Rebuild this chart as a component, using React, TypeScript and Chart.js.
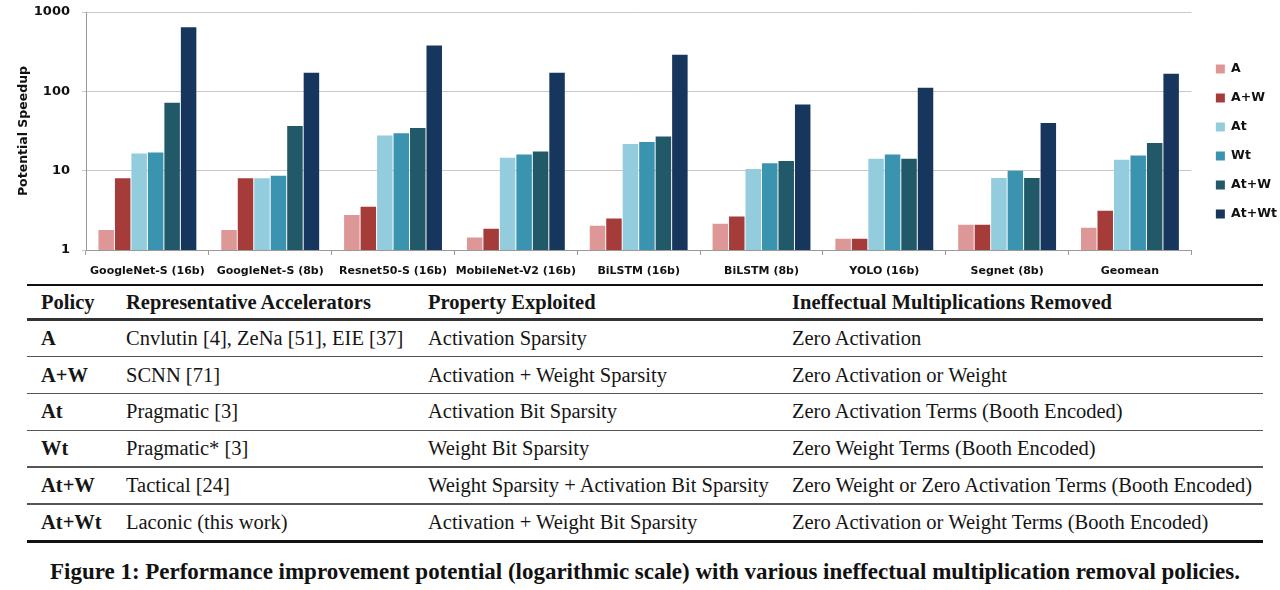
import React, { useEffect, useLayoutEffect, useRef } from 'react';
import { Chart, registerables } from 'chart.js';

Chart.register(...registerables);

// ---------- chart data ----------
const categories = [
  'GoogleNet-S (16b)',
  'GoogleNet-S (8b)',
  'Resnet50-S (16b)',
  'MobileNet-V2 (16b)',
  'BiLSTM (16b)',
  'BiLSTM (8b)',
  'YOLO (16b)',
  'Segnet (8b)',
  'Geomean',
];
const seriesNames = ['A', 'A+W', 'At', 'Wt', 'At+W', 'At+Wt'];
const seriesA = [1.79, 1.79, 2.76, 1.44, 2.02, 2.14, 1.39, 2.08, 1.91];
const seriesAW = [8.05, 8.05, 3.5, 1.85, 2.5, 2.65, 1.39, 2.08, 3.12];
const seriesAt = [16.5, 8.05, 27.7, 14.5, 21.7, 10.5, 14.1, 8.1, 13.7];
const seriesWt = [16.9, 8.6, 29.6, 16.0, 23.0, 12.4, 16.0, 10.0, 15.5];
const seriesAtW = [72, 36.6, 34.6, 17.4, 26.9, 13.2, 14.1, 8.1, 22.4];
const seriesAtWt = [644, 172, 379, 172, 289, 68, 111, 40, 167];
const yTicks = [1, 10, 100, 1000];

// ---------- table data ----------
const tableHeaders = ['Policy', 'Representative Accelerators', 'Property Exploited', 'Ineffectual Multiplications Removed'];
const policies = ['A', 'A+W', 'At', 'Wt', 'At+W', 'At+Wt'];
const accelerators = [
  'Cnvlutin [4], ZeNa [51], EIE [37]',
  'SCNN [71]',
  'Pragmatic [3]',
  'Pragmatic* [3]',
  'Tactical [24]',
  'Laconic (this work)',
];
const properties = [
  'Activation Sparsity',
  'Activation + Weight Sparsity',
  'Activation Bit Sparsity',
  'Weight Bit Sparsity',
  'Weight Sparsity + Activation Bit Sparsity',
  'Activation + Weight Bit Sparsity',
];
const removed = [
  'Zero Activation',
  'Zero Activation or Weight',
  'Zero Activation Terms (Booth Encoded)',
  'Zero Weight Terms (Booth Encoded)',
  'Zero Weight or Zero Activation Terms (Booth Encoded)',
  'Zero Activation or Weight Terms (Booth Encoded)',
];
const captionText =
  'Figure 1: Performance improvement potential (logarithmic scale) with various ineffectual multiplication removal policies.';

// ---------- styles ----------
const seriesColors = ['#DC9796', '#A63C3A', '#93CDDD', '#3A93AF', '#215968', '#17365D'];
const SANS = 'DejaVu Sans';
const SERIF = '"Liberation Serif", "Times New Roman", serif';
const colWidths = [99, 302, 364, 471];

export default function App() {
  const canvasRef = useRef<HTMLCanvasElement>(null);
  const capRef = useRef<HTMLSpanElement>(null);

  useEffect(() => {
    const values = [seriesA, seriesAW, seriesAt, seriesWt, seriesAtW, seriesAtWt];
    const chart = new Chart(canvasRef.current as HTMLCanvasElement, {
      type: 'bar',
      data: {
        labels: categories,
        datasets: seriesNames.map((name, i) => ({
          label: name,
          data: values[i],
          backgroundColor: seriesColors[i],
          borderWidth: 0,
          barPercentage: 0.94,
          categoryPercentage: 0.805,
        })),
      },
      options: {
        animation: false,
        responsive: false,
        maintainAspectRatio: false,
        layout: { padding: { left: 0, top: 12, right: -7, bottom: 5 } },
        plugins: {
          legend: {
            position: 'right',
            align: 'start',
            title: { display: true, text: ' ', padding: { top: 19.25, bottom: 0 }, font: { family: SANS, size: 12.5 } },
            labels: {
              boxWidth: 9,
              boxHeight: 9,
              padding: 16.5,
              color: '#111',
              font: { family: SANS, size: 12.5, weight: 'bold' },
            },
          },
          tooltip: { enabled: false },
        },
        scales: {
          x: {
            grid: { display: true, drawOnChartArea: false, drawTicks: true, tickLength: 5, color: '#999', offset: true },
            border: { display: true, color: '#999' },
            ticks: {
              autoSkip: false,
              maxRotation: 0,
              minRotation: 0,
              padding: 10,
              color: '#111',
              font: { family: SANS, size: 11, weight: 'bold' },
            },
            afterFit: (s: any) => {
              s.height = 29;
            },
          },
          y: {
            type: 'logarithmic',
            min: 1,
            max: 1000,
            afterBuildTicks: (s: any) => {
              s.ticks = yTicks.map((v) => ({ value: v }));
            },
            ticks: {
              callback: (v: any) => String(v),
              padding: 12,
              color: '#111',
              font: { family: SANS, size: 13, weight: 'bold' },
            },
            grid: { color: '#c8c8c8', tickLength: 4 },
            border: { display: true, color: '#999' },
            title: {
              display: true,
              text: 'Potential Speedup',
              color: '#111',
              font: { family: SANS, size: 12.5, weight: 'bold' },
              padding: { top: 16.5, bottom: 0 },
            },
            afterFit: (s: any) => {
              s.width = 86;
              s.paddingTop = 4;
              s.paddingBottom = 4;
            },
          },
          gap: {
            type: 'linear',
            position: 'right',
            display: true,
            grid: { display: false },
            border: { display: false },
            ticks: { display: false },
            afterFit: (s: any) => {
              s.width = 8;
              s.paddingTop = 0;
              s.paddingBottom = 0;
            },
          },
        },
      } as any,
    });
    return () => chart.destroy();
  }, []);

  useLayoutEffect(() => {
    const el = capRef.current;
    if (!el) return;
    el.style.transform = 'none';
    const w = el.getBoundingClientRect().width;
    if (w > 0) el.style.transform = `scaleX(${1190 / w})`;
  }, []);

  const rowStyle: React.CSSProperties = {
    display: 'flex',
    alignItems: 'center',
    fontFamily: SERIF,
    fontSize: 20.5,
    color: '#151515',
    whiteSpace: 'nowrap',
  };
  const cell = (j: number, content: string, bold: boolean) => (
    <div
      key={j}
      style={{
        width: colWidths[j],
        paddingLeft: j === 0 ? 14 : 0,
        boxSizing: 'border-box',
        fontWeight: bold ? 'bold' : 'normal',
      }}
    >
      {content}
    </div>
  );

  return (
    <div style={{ position: 'absolute', left: 0, top: 0, width: 1280, height: 590, background: '#fff', overflow: 'hidden' }}>
      <canvas ref={canvasRef} width={1280} height={284} style={{ position: 'absolute', left: 0, top: 0, width: 1280, height: 284 }} />
      <div style={{ position: 'absolute', left: 27, top: 284, width: 1236 }}>
        <div style={{ height: 2, background: '#111' }} />
        <div style={{ ...rowStyle, height: 32 }}>{tableHeaders.map((h, j) => cell(j, h, true))}</div>
        <div style={{ height: 2.5, background: '#333' }} />
        {policies.map((p, i) => (
          <React.Fragment key={p}>
            <div style={{ ...rowStyle, height: 35.3 }}>
              {cell(0, p, true)}
              {cell(1, accelerators[i], false)}
              {cell(2, properties[i], false)}
              {cell(3, removed[i], false)}
            </div>
            <div style={{ height: i === policies.length - 1 ? 2.5 : 1.6, background: i === policies.length - 1 ? '#111' : '#555' }} />
          </React.Fragment>
        ))}
      </div>
      <div style={{ position: 'absolute', left: 50, top: 558, height: 28, lineHeight: '28px', whiteSpace: 'nowrap' }}>
        <span
          ref={capRef}
          style={{
            display: 'inline-block',
            fontFamily: SERIF,
            fontWeight: 'bold',
            fontSize: 22.5,
            color: '#111',
            transformOrigin: 'left center',
          }}
        >
          {captionText}
        </span>
      </div>
    </div>
  );
}
